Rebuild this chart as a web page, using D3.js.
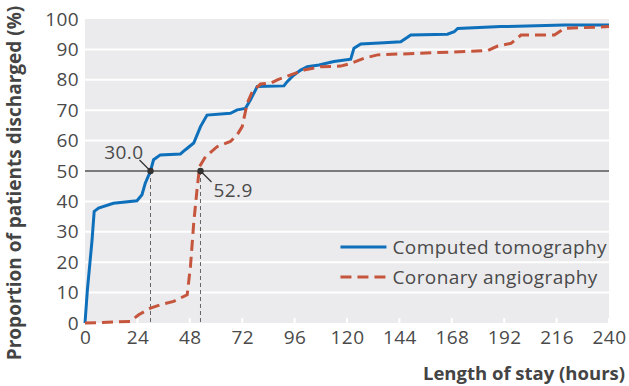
<!DOCTYPE html>
<html>
<head>
<meta charset="utf-8">
<script src="https://cdn.jsdelivr.net/npm/d3@7"></script>
<style>
  body { margin: 0; background: #fff; }
  text { font-family: "Open Sans", "Noto Sans", sans-serif; }
</style>
</head>
<body>
<svg id="view" width="629" height="386"></svg>
<script>
// length of stay (hours) vs % discharged
const ctHours = [0, 1.1, 3.2, 4.2, 6.2, 13, 23.8, 26.1, 27.6, 30, 31.4, 34.5, 43.7, 46, 49.8, 52.9, 55.9, 66.6, 69.7, 73.5, 75.8, 78.9, 91.1, 92.6, 95.7, 98.8, 101.8, 107.2, 114, 121.7, 123.2, 126.3, 137, 144.6, 147.7, 149.2, 166, 169.1, 170.7, 190.5, 219.6, 240];
const ctPct   = [0, 11, 27, 36.7, 37.8, 39.4, 40.2, 42.2, 46, 50, 53.7, 55.3, 55.6, 57, 59.2, 64.6, 68.4, 69, 70.1, 70.6, 73.4, 77.8, 78, 79.4, 81.6, 83.2, 84.3, 84.9, 86, 86.8, 90.4, 91.8, 92.2, 92.5, 94, 94.7, 95, 95.8, 96.9, 97.5, 98, 98];
const caHours = [0, 20.7, 24.6, 30, 34.5, 40.6, 46.8, 48.3, 49.8, 51.3, 52.5, 55.2, 60.5, 66.6, 69.7, 72, 74.3, 76.6, 80.4, 85, 88.1, 94.2, 100.3, 107.9, 117.1, 121.7, 127.8, 134, 184.4, 189, 195.1, 199.7, 215, 219.6, 240];
const caPct   = [0, 0.5, 2.7, 4.9, 6, 7.1, 9.3, 18.6, 32.9, 43.8, 51.5, 54.7, 58, 59.7, 61.9, 64.6, 72.3, 76.1, 78.6, 78.9, 80, 81.6, 83.2, 84.3, 84.5, 85.4, 87.1, 88.2, 89.6, 91.1, 92, 94.7, 94.7, 96.9, 97.5];
const xTicks = [0, 24, 48, 72, 96, 120, 144, 168, 192, 216, 240];
const yTicks = [0, 10, 20, 30, 40, 50, 60, 70, 80, 90, 100];
const medians = [{ name: "Computed tomography", h: 30.0 }, { name: "Coronary angiography", h: 52.9 }];
const seriesNames = ["Computed tomography", "Coronary angiography"];

const colors = { "Computed tomography": "#0e6fba", "Coronary angiography": "#c5553c" };
const labelFont = { size: 19, spacing: "0.4px", fill: "#4a4a4a" };
const dash = "11,6";

const margin = { top: 19, right: 20, bottom: 63, left: 85 };
const width = 629 - margin.left - margin.right;
const height = 386 - margin.top - margin.bottom;

const svg = d3.select("#view")
  .append("g")
  .attr("transform", "translate(" + margin.left + "," + margin.top + ")");

const x = d3.scaleLinear().domain([0, 240]).range([0, width]);
const y = d3.scaleLinear().domain([0, 100]).range([height, 0]);

// panel
svg.append("rect").attr("width", width).attr("height", height).attr("fill", "#ebebed");

// grid
svg.selectAll(".grid")
  .data(yTicks.filter(d => d > 0 && d < 100 && d !== 50))
  .enter().append("line")
  .attr("x1", 0).attr("x2", width)
  .attr("y1", d => y(d)).attr("y2", d => y(d))
  .attr("stroke", "#fff").attr("stroke-width", 2);

// white tick marks at bottom
svg.selectAll(".xtk")
  .data(xTicks)
  .enter().append("line")
  .attr("x1", d => x(d)).attr("x2", d => x(d))
  .attr("y1", height).attr("y2", height - 5)
  .attr("stroke", "#fff").attr("stroke-width", 2);

// 50% line
svg.append("line")
  .attr("x1", 0).attr("x2", width)
  .attr("y1", y(50)).attr("y2", y(50))
  .attr("stroke", "#555").attr("stroke-width", 1.3);

// median drop lines
svg.selectAll(".drop")
  .data(medians)
  .enter().append("line")
  .attr("x1", d => x(d.h)).attr("x2", d => x(d.h))
  .attr("y1", y(50)).attr("y2", height)
  .attr("stroke", "#666").attr("stroke-width", 1)
  .attr("stroke-dasharray", "4,3");

// axes
const yAxis = d3.axisLeft(y).tickValues(yTicks).tickSize(0).tickPadding(6);
const xAxis = d3.axisBottom(x).tickValues(xTicks).tickSize(0).tickPadding(8);

const styleTicks = g => g.selectAll("text")
  .attr("font-size", labelFont.size).attr("fill", labelFont.fill)
  .attr("letter-spacing", labelFont.spacing)
  .attr("font-family", "'Open Sans', sans-serif");

const gy = svg.append("g").call(yAxis);
gy.select(".domain").remove();
styleTicks(gy);

const gx = svg.append("g").attr("transform", `translate(0,${height})`).call(xAxis);
gx.select(".domain").remove();
styleTicks(gx);

// lines
const line = d3.line().x(d => x(d[0])).y(d => y(d[1]));

svg.append("path")
  .datum(ctHours.map((h, i) => [h, ctPct[i]]))
  .attr("d", line)
  .attr("fill", "none")
  .attr("stroke", colors["Computed tomography"])
  .attr("stroke-width", 3);

svg.append("path")
  .datum(caHours.map((h, i) => [h, caPct[i]]))
  .attr("d", line)
  .attr("fill", "none")
  .attr("stroke", colors["Coronary angiography"])
  .attr("stroke-width", 3)
  .attr("stroke-dasharray", dash);

// median markers and labels
svg.selectAll(".dot")
  .data(medians)
  .enter().append("circle")
  .attr("cx", d => x(d.h)).attr("cy", y(50))
  .attr("r", 3.2).attr("fill", "#333");

// 30.0 label sits up-left, 52.9 down-right
svg.append("line")
  .attr("x1", x(30) - 11).attr("y1", y(50) - 11)
  .attr("x2", x(30)).attr("y2", y(50))
  .attr("stroke", "#333").attr("stroke-width", 1.2);
svg.append("text")
  .attr("x", x(30) - 7).attr("y", y(50) - 12)
  .attr("text-anchor", "end")
  .attr("font-size", labelFont.size).attr("fill", labelFont.fill)
  .attr("letter-spacing", labelFont.spacing)
  .text(d3.format(".1f")(medians[0].h));

svg.append("line")
  .attr("x1", x(52.9)).attr("y1", y(50))
  .attr("x2", x(52.9) + 11).attr("y2", y(50) + 11)
  .attr("stroke", "#333").attr("stroke-width", 1.2);
svg.append("text")
  .attr("x", x(52.9) + 13).attr("y", y(50) + 26)
  .attr("text-anchor", "start")
  .attr("font-size", labelFont.size).attr("fill", labelFont.fill)
  .attr("letter-spacing", labelFont.spacing)
  .text(d3.format(".1f")(medians[1].h));

// legend
const legend = svg.append("g").attr("transform", `translate(${x(117)},${y(25)})`);
seriesNames.forEach((name, i) => {
  const row = legend.append("g").attr("transform", `translate(0,${i * 30})`);
  row.append("line")
    .attr("x1", 0).attr("x2", 46).attr("y1", 0).attr("y2", 0)
    .attr("stroke", colors[name]).attr("stroke-width", 3)
    .attr("stroke-dasharray", i === 1 ? dash : null);
  row.append("text")
    .attr("x", 52).attr("y", 0).attr("dy", "0.35em")
    .attr("font-size", labelFont.size).attr("fill", labelFont.fill)
    .attr("letter-spacing", labelFont.spacing)
    .text(name);
});

// axis titles
svg.append("text")
  .attr("transform", `translate(${-64},${height / 2 + 12}) rotate(-90)`)
  .attr("text-anchor", "middle")
  .attr("font-size", 19).attr("font-weight", "bold").attr("fill", "#444")
  .text("Proportion of patients discharged (%)");

svg.append("text")
  .attr("x", width + 16).attr("y", height + 57)
  .attr("text-anchor", "end")
  .attr("font-size", 18.5).attr("font-weight", "bold").attr("fill", "#444")
  .text("Length of stay (hours)");
</script>
</body>
</html>
